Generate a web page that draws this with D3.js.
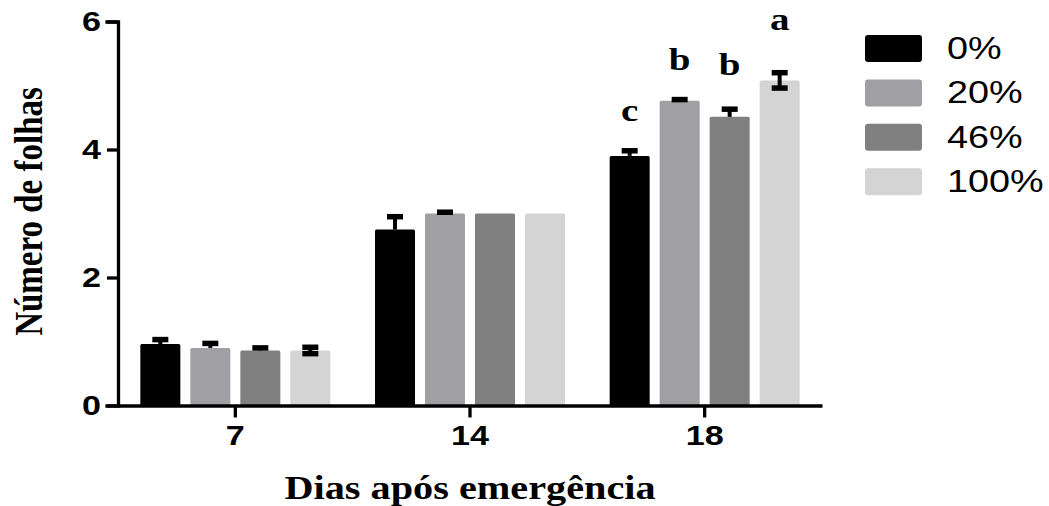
<!DOCTYPE html>
<html>
<head>
<meta charset="utf-8">
<script src="https://cdn.jsdelivr.net/npm/d3@7"></script>
<style>
  html, body { margin: 0; padding: 0; background: #fff; }
  svg { display: block; }
</style>
</head>
<body>
<svg id="chart" width="1049" height="506"></svg>
<script>
// ---- data ----
const days = ["7", "14", "18"];
const seriesNames = ["0%", "20%", "46%", "100%"];
const seriesColors = ["#000000", "#a0a0a4", "#808080", "#d4d4d4"];
const errorDirection = ["up", "up", "up", "both"];
const values0 = [0.96, 2.75, 3.90];
const values20 = [0.90, 3.00, 4.76];
const values46 = [0.86, 3.00, 4.51];
const values100 = [0.86, 3.00, 5.08];
const err0 = [0.07, 0.20, 0.08];
const err20 = [0.07, 0.02, 0.02];
const err46 = [0.04, 0.00, 0.12];
const err100 = [0.05, 0.00, 0.12];
const yTicks = [0, 2, 4, 6];
const letterDay = "18";
const letters = ["c", "b", "b", "a"];
const letterY = [4.44, 5.24, 5.16, 5.86];
const yTitle = "Número de folhas";
const xTitle = "Dias após emergência";

const allValues = [values0, values20, values46, values100];
const allErr = [err0, err20, err46, err100];

(function () {
// ---- layout ----
const SX = 1.22; // horizontal text stretch seen in the reference
const svg = d3.select("#chart");
const mLeft = 118, mRight = 822, mTop = 21.5, mBottom = 405.5;

const x0 = d3.scaleBand().domain(days).range([mLeft, mRight]).padding(0);
const x1 = d3.scaleBand().domain(seriesNames).range([0, 190]).paddingInner(0.2).paddingOuter(0);
const y = d3.scaleLinear().domain([0, 6]).range([mBottom, mTop]);

const g = svg.append("g");

// bars
days.forEach((day, di) => {
  const gx = x0(day) + x0.bandwidth() / 2 - 95;
  seriesNames.forEach((s, si) => {
    const v = allValues[si][di];
    const e = allErr[si][di];
    const bx = gx + x1(s);
    const bw = x1.bandwidth();
    g.append("rect")
      .attr("x", bx).attr("y", y(v))
      .attr("width", bw).attr("height", y(0) - y(v))
      .attr("rx", 1.5)
      .attr("fill", seriesColors[si]);
    if (e > 0) {
      const cx = bx + bw / 2;
      const lo = errorDirection[si] === "both" ? v - e : v;
      g.append("line")
        .attr("x1", cx).attr("x2", cx)
        .attr("y1", y(lo)).attr("y2", y(v + e))
        .attr("stroke", "#000").attr("stroke-width", 4);
      g.append("line")
        .attr("x1", cx - 8).attr("x2", cx + 8)
        .attr("y1", y(v + e)).attr("y2", y(v + e))
        .attr("stroke", "#000").attr("stroke-width", 5.5);
      if (errorDirection[si] === "both") {
        g.append("line")
          .attr("x1", cx - 8).attr("x2", cx + 8)
          .attr("y1", y(v - e)).attr("y2", y(v - e))
          .attr("stroke", "#000").attr("stroke-width", 5.5);
      }
    }
  });
});

// significance letters
{
  const gx = x0(letterDay) + x0.bandwidth() / 2 - 95;
  seriesNames.forEach((s, si) => {
    const cx = gx + x1(s) + x1.bandwidth() / 2;
    g.append("text")
      .attr("transform", `translate(${cx},${y(letterY[si])}) scale(${SX},1)`)
      .attr("text-anchor", "middle")
      .attr("font-family", "'Liberation Serif', 'Times New Roman', serif")
      .attr("font-weight", "bold")
      .attr("font-size", 32)
      .text(letters[si]);
  });
}

// y axis
const yAxis = g.append("g")
  .attr("transform", `translate(${mLeft},0)`)
  .call(d3.axisLeft(y).tickValues(yTicks).tickFormat(d3.format("d")).tickSize(11).tickSizeOuter(11));
yAxis.select(".domain").attr("stroke-width", 3.3).attr("stroke-linecap", "square");
yAxis.selectAll(".tick line").attr("stroke-width", 3.3);
yAxis.selectAll(".tick text")
  .attr("x", -17 / SX)
  .attr("dy", "0.33em")
  .attr("transform", `scale(${SX},1)`)
  .attr("font-family", "'Liberation Sans', Arial, sans-serif")
  .attr("font-weight", "bold")
  .attr("font-size", 28)
  .attr("fill", "#000");

// x axis
const xAxis = g.append("g")
  .attr("transform", `translate(0,${mBottom})`)
  .call(d3.axisBottom(x0).tickSize(12).tickSizeOuter(0));
xAxis.select(".domain").attr("stroke-width", 3.3);
xAxis.selectAll(".tick line").attr("stroke-width", 3.3);
xAxis.selectAll(".tick text")
  .attr("y", 39.5)
  .attr("dy", 0)
  .attr("transform", `scale(${SX},1)`)
  .attr("font-family", "'Liberation Sans', Arial, sans-serif")
  .attr("font-weight", "bold")
  .attr("font-size", 28)
  .attr("fill", "#000");
g.selectAll(".domain").attr("stroke", "#000");
g.selectAll(".tick line").attr("stroke", "#000");

// axis titles
g.append("text")
  .attr("transform", `translate(42,${(mTop + mBottom) / 2 - 2}) scale(${SX},1) rotate(-90)`)
  .attr("text-anchor", "middle")
  .attr("font-family", "'Liberation Serif', 'Times New Roman', serif")
  .attr("font-weight", "bold")
  .attr("font-size", 33)
  .text(yTitle);

g.append("text")
  .attr("transform", `translate(${(mLeft + mRight) / 2},499) scale(${SX},1)`)
  .attr("text-anchor", "middle")
  .attr("font-family", "'Liberation Serif', 'Times New Roman', serif")
  .attr("font-weight", "bold")
  .attr("font-size", 33)
  .text(xTitle);

// legend
const leg = g.append("g").attr("transform", "translate(865,35)");
seriesNames.forEach((s, i) => {
  const row = leg.append("g").attr("transform", `translate(0,${i * 44.4})`);
  row.append("rect")
    .attr("width", 57).attr("height", 27).attr("rx", 3)
    .attr("fill", seriesColors[i]);
  row.append("text")
    .attr("transform", `translate(82,24) scale(${SX},1)`)
    .attr("font-family", "'Liberation Sans', Arial, sans-serif")
    .attr("font-size", 31)
    .attr("fill", "#000")
    .text(s);
});
})();
</script>
</body>
</html>
